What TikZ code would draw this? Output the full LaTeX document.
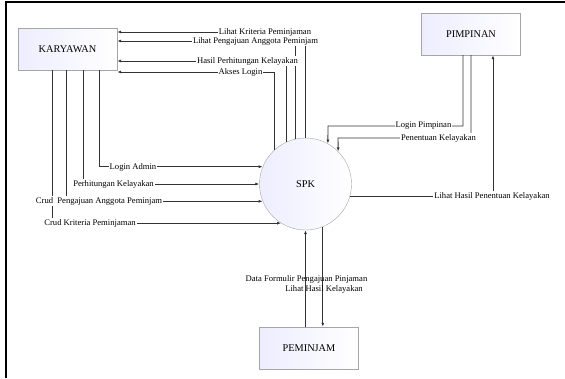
\documentclass[tikz,border=0pt]{standalone}
\usepackage{fontspec}
\setmainfont{Liberation Serif}
\usetikzlibrary{arrows.meta}

\begin{document}
\begin{tikzpicture}[x=1pt, y=-1pt]
\useasboundingbox (0,0) rectangle (565,378);
\draw[line width=2pt] (6,378) -- (6,2) -- (565,2);

\coordinate (C_kar) at (67.5, 49);
\coordinate (C_pim) at (471, 34);
\coordinate (C_pem) at (309, 348);
\coordinate (C_spk) at (305.5, 184);

\tikzset{EntityStyle/.style = {
 draw = gray!70,
 left color = blue!7,
 right color = white,
 minimum width = 99pt,
 minimum height = 42pt,
 inner sep = 0pt,
 font = \fontsize{10.3}{12}\selectfont} }

\node[EntityStyle] (kar) at (C_kar) {KARYAWAN};
\node[EntityStyle] (pim) at (C_pim) {PIMPINAN};
\node[EntityStyle] (pem) at (C_pem) {PEMINJAM};
\node[EntityStyle, shape=circle, minimum size=92pt] (spk) at (C_spk) {SPK};

% bend heights and columns
\coordinate (T1) at (0, 32);
\coordinate (T2) at (0, 41);
\coordinate (T3) at (0, 61);
\coordinate (T4) at (0, 72);
\coordinate (K1) at (99, 0);
\coordinate (K2) at (83, 0);
\coordinate (K3) at (66, 0);
\coordinate (K4) at (52, 0);
\coordinate (P1) at (463, 0);
\coordinate (P3) at (493, 0);
\coordinate (B1) at (328, 126);
\coordinate (B2) at (338, 138);

\tikzset{FlowStyle/.style = {black!80, line width=0.9pt, -{Latex[length=4pt, width=3pt]}} }

\draw[FlowStyle] (spk.90) |- (kar.east |- T1);
\draw[FlowStyle] (spk.102) |- (kar.east |- T2);
\draw[FlowStyle] (spk.114) |- (kar.east |- T3);
\draw[FlowStyle] (spk.133) |- (kar.east |- T4);
\draw[FlowStyle] (kar.south -| K1) |- (spk.158);
\draw[FlowStyle] (kar.south -| K2) |- (spk.west);
\draw[FlowStyle] (kar.south -| K3) |- (spk.202);
\draw[FlowStyle] (kar.south -| K4) |- (spk.238);
\draw[FlowStyle] (pim.south -| P1) |- (B1) -- (spk.61);
\draw[FlowStyle] (pim.south) |- (B2) -- (spk.45);
\draw[FlowStyle] (spk.-15) -| (pim.south -| P3);
\draw[FlowStyle] (pem.north -| spk.south) -- (spk.south);
\draw[FlowStyle] (spk.-68) -- (pem.north -| spk.-68);

\tikzset{LabelStyle/.style = {fill=white, inner sep=1pt, font=\fontsize{8.6}{10}\selectfont} }

\node[LabelStyle] (L1) at (265, 32) {Lihat Kriteria Peminjaman};
\node[LabelStyle] (L2) at (255.5, 41) {Lihat Pengajuan Anggota Peminjam};
\node[LabelStyle] (L3) at (247.5, 61) {Hasil Perhitungan Kelayakan};
\node[LabelStyle] (L4) at (240.5, 72) {Akses Login};
\node[LabelStyle] (L5) at (133, 167) {Login Admin};
\node[LabelStyle] (L6) at (113.5, 184) {Perhitungan Kelayakan};
\node[LabelStyle] (L7) at (99, 201) {Crud\ \ Pengajuan Anggota Peminjam};
\node[LabelStyle] (L8) at (90, 223) {Crud Kriteria Peminjaman};
\node[LabelStyle] (L9) at (423.5, 126) {Login Pimpinan};
\node[LabelStyle] (L10) at (438.5, 138) {Penentuan Kelayakan};
\node[LabelStyle] (L11) at (492, 196) {Lihat Hasil Penentuan Kelayakan};
\node[LabelStyle, fill=none] (L12) at (306.5, 279) {Data Formulir Pengajuan Pinjaman};
\node[LabelStyle, fill=none] (L13) at (324, 289) {Lihat Hasil Kelayakan};

\end{tikzpicture}
\end{document}
